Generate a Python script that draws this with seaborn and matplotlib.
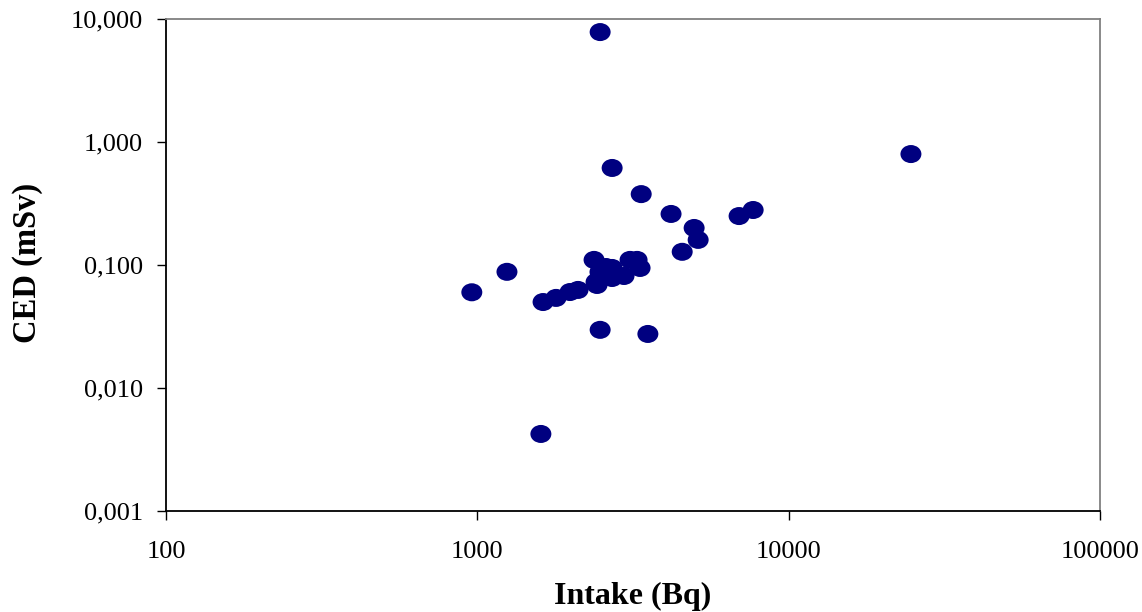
import numpy as np
import pandas as pd
import matplotlib
matplotlib.use("Agg")
import matplotlib.pyplot as plt
from matplotlib.path import Path
from matplotlib.ticker import FixedLocator, FixedFormatter, NullLocator
import seaborn as sns

# Intake (Bq) and committed effective dose (mSv) per measurement
intake_bq = [
    2480, 24700, 2710, 3360, 4190, 4970, 6930, 7690, 5120, 4550,
    960, 1245, 1600, 2480, 3530,
    1626, 1790, 1985, 2106, 2371, 2424, 2477, 2591, 2709, 2709,
    2959, 3094, 3259, 3332, 2406,
]
ced_msv = [
    7.83, 0.798, 0.615, 0.377, 0.260, 0.200, 0.250, 0.280, 0.160, 0.128,
    0.060, 0.088, 0.00423, 0.0297, 0.0275,
    0.050, 0.054, 0.0603, 0.0627, 0.110, 0.0688, 0.0877, 0.0963, 0.0946, 0.0784,
    0.0814, 0.110, 0.110, 0.0946, 0.0727,
]

x_ticks = [100, 1000, 10000, 100000]
x_tick_labels = ["100", "1000", "10000", "100000"]
y_ticks = [0.001, 0.01, 0.1, 1, 10]
y_tick_labels = ["0,001", "0,010", "0,100", "1,000", "10,000"]

df = pd.DataFrame({"Intake (Bq)": intake_bq, "CED (mSv)": ced_msv})

sns.set_theme(style="white")
plt.rcParams["font.family"] = ["Liberation Serif", "DejaVu Serif"]

fig = plt.figure(figsize=(11.42, 6.12), dpi=100)
ax = fig.add_axes([166 / 1142, 1 - 511 / 612, (1100 - 166) / 1142, (511 - 19) / 612])

# slightly flattened ellipse marker
circ = Path.unit_circle()
ellipse = Path(circ.vertices * np.array([1.0, 0.86]), circ.codes)

sns.scatterplot(data=df, x="Intake (Bq)", y="CED (mSv)", ax=ax,
                marker=ellipse, s=228, color="#000080", edgecolor="none",
                linewidth=0, legend=False)

ax.set_xscale("log")
ax.set_yscale("log")
ax.set_xlim(100, 100000)
ax.set_ylim(0.001, 10)

ax.xaxis.set_major_locator(FixedLocator(x_ticks))
ax.xaxis.set_major_formatter(FixedFormatter(x_tick_labels))
ax.yaxis.set_major_locator(FixedLocator(y_ticks))
ax.yaxis.set_major_formatter(FixedFormatter(y_tick_labels))
ax.xaxis.set_minor_locator(NullLocator())
ax.yaxis.set_minor_locator(NullLocator())

ax.tick_params(axis="both", which="major", direction="out", length=6.5,
               width=1.0, color="black", labelsize=19, labelcolor="black")
ax.tick_params(axis="x", pad=15, bottom=True)
ax.tick_params(axis="y", pad=10, left=True)

for side in ("left", "bottom"):
    ax.spines[side].set_color("black")
    ax.spines[side].set_linewidth(1.3)
for side in ("top", "right"):
    ax.spines[side].set_color("#808080")
    ax.spines[side].set_linewidth(1.3)
    ax.spines[side].set_visible(True)

ax.set_xlabel("Intake (Bq)", fontsize=23, fontweight="bold", color="black")
ax.set_ylabel("CED (mSv)", fontsize=23.5, fontweight="bold", color="black")
ax.xaxis.label.set_va("center")
ax.yaxis.label.set_va("center")
ax.xaxis.set_label_coords(0.5, (511 - 596) / 492)
ax.yaxis.set_label_coords((28 - 166) / 934, 0.505)

fig.savefig("out.png", dpi=100, facecolor="white")
